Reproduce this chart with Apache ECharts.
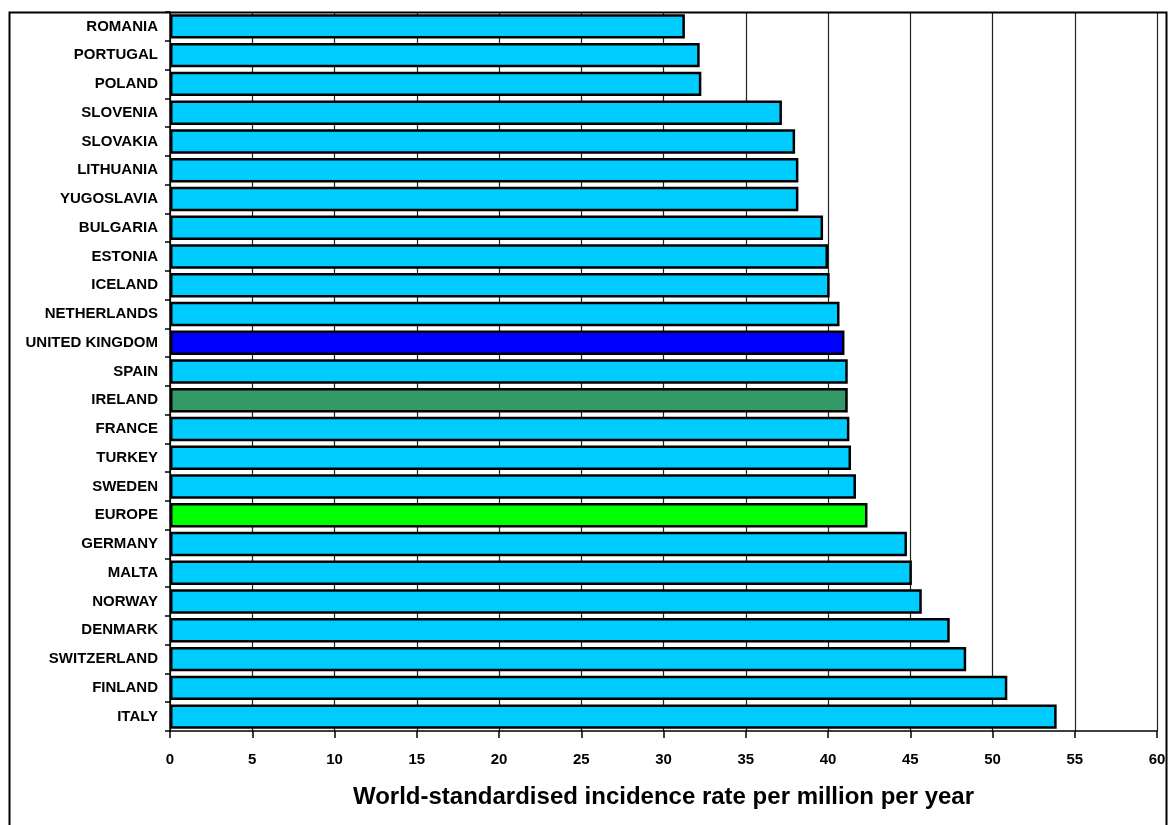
<!DOCTYPE html>
<html>
<head>
<meta charset="utf-8">
<script src="https://cdn.jsdelivr.net/npm/echarts@6/dist/echarts.min.js"></script>
<style>
html,body{margin:0;padding:0;background:#fff;}
#chart{width:1171px;height:825px;}
</style>
</head>
<body>
<div id="chart"></div>
<script>
// Data (top to bottom as displayed)
const countries = ["ROMANIA","PORTUGAL","POLAND","SLOVENIA","SLOVAKIA","LITHUANIA","YUGOSLAVIA","BULGARIA","ESTONIA","ICELAND","NETHERLANDS","UNITED KINGDOM","SPAIN","IRELAND","FRANCE","TURKEY","SWEDEN","EUROPE","GERMANY","MALTA","NORWAY","DENMARK","SWITZERLAND","FINLAND","ITALY"];
const rates = [31.3,32.2,32.3,37.2,38.0,38.2,38.2,39.7,40.0,40.1,40.7,41.0,41.2,41.2,41.3,41.4,41.7,42.4,44.8,45.1,45.7,47.4,48.4,50.9,53.9];
const xTicks = [0,5,10,15,20,25,30,35,40,45,50,55,60];
const axisTitle = "World-standardised incidence rate per million per year";

// Styling
const baseColor = "#00CCFF";
const highlight = {"UNITED KINGDOM":"#0000FF","IRELAND":"#339966","EUROPE":"#00FF00"};
const font = "Liberation Sans, Arial, sans-serif";

const chart = echarts.init(document.getElementById('chart'));
chart.setOption({
  animation:false,
  backgroundColor:'#fff',
  graphic:[{
    type:'rect', silent:true, z:100,
    shape:{x:9.5,y:12.5,width:1157,height:900},
    style:{fill:'none',stroke:'#000',lineWidth:2}
  }],
  grid:{left:170,right:14,top:12,bottom:94,containLabel:false},
  xAxis:{
    type:'value', min:xTicks[0], max:xTicks[xTicks.length-1], interval:5,
    axisLine:{show:true,lineStyle:{color:'#000',width:1.5}},
    axisTick:{show:true,length:7,lineStyle:{color:'#000',width:1.5}},
    splitLine:{show:true,lineStyle:{color:'#222',width:1.2}},
    axisLabel:{color:'#000',fontWeight:'bold',fontSize:15,fontFamily:font,margin:21},
    name:axisTitle, nameLocation:'middle', nameGap:54,
    nameTextStyle:{color:'#000',fontWeight:'bold',fontSize:24,fontFamily:font}
  },
  yAxis:{
    type:'category', data:countries, inverse:true,
    axisLine:{show:true,lineStyle:{color:'#000',width:1.5}},
    axisTick:{show:true,length:5,lineStyle:{color:'#000',width:1.5}},
    axisLabel:{color:'#000',fontWeight:'bold',fontSize:15,fontFamily:font,margin:12}
  },
  series:[{
    type:'bar',
    barCategoryGap:'15%',
    data:rates.map((v,i)=>({value:v,itemStyle:{color:highlight[countries[i]]||baseColor}})),
    itemStyle:{borderColor:'#000',borderWidth:2.5}
  }]
});
</script>
</body>
</html>
